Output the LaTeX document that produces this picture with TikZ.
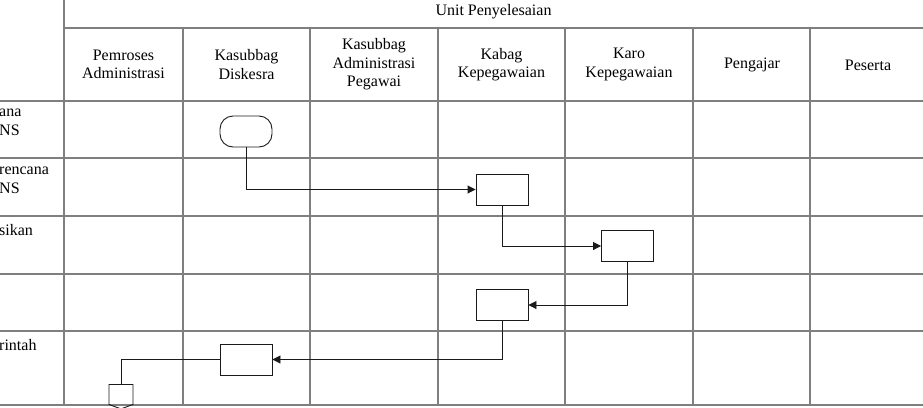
\documentclass[tikz,border=0pt]{standalone}
\usepackage{fontspec}
\setmainfont{Liberation Serif}
\usepackage{tikz}
\usetikzlibrary{calc,positioning,shapes.geometric,shapes.symbols,arrows.meta}
\definecolor{GridGray}{HTML}{7F7F7F}
\definecolor{FlowBlack}{HTML}{1A1A1A}

\begin{document}
\begin{tikzpicture}[x=1pt,y=-1pt,font=\fontsize{16pt}{18.5pt}\selectfont,
      gl/.style={draw=GridGray,line width=1.1pt},
      hd/.style={align=center,inner sep=0pt},
      rl/.style={align=left,anchor=north west,inner sep=0pt},
      bx/.style={draw=FlowBlack,line width=0.9pt,minimum width=52pt,minimum height=31pt,inner sep=0pt},
      tm/.style={draw=FlowBlack,line width=0.9pt,rounded corners=13pt,minimum width=52pt,minimum height=31pt,inner sep=0pt},
      op/.style={draw=FlowBlack,line width=0.9pt,signal,signal to=south,signal from=nowhere,signal pointer angle=140,minimum width=24pt,minimum height=20pt,inner sep=0pt},
      ar/.style={-{Triangle[length=8pt,width=8pt]},line width=0.9pt,color=FlowBlack}]
      \useasboundingbox (0,0) rectangle (923,407);
      % table grid
      \draw[gl] (64,0) -- (64,405);
      \draw[gl] (183,28) -- (183,405) (310,28) -- (310,405) (438,28) -- (438,405);
      \draw[gl] (565,28) -- (565,405) (693,28) -- (693,405) (810,28) -- (810,405);
      \draw[gl] (64,28) -- (923,28);
      \draw[gl] (0,101) -- (923,101) (0,158) -- (923,158) (0,216) -- (923,216);
      \draw[gl] (0,274) -- (923,274) (0,331) -- (923,331) (0,405) -- (923,405);
      % headers
      \node[hd] (unit) at (493.5,12) {Unit Penyelesaian};
      \node[hd] (hpa) at (123.5,64.5) {Pemroses\\Administrasi};
      \node[hd] (hkd) at (246.5,64.5) {Kasubbag\\Diskesra};
      \node[hd] (hka) at (374,64.5) {Kasubbag\\Administrasi\\Pegawai};
      \node[hd] (hkb) at (501.5,64.5) {Kabag\\Kepegawaian};
      \node[hd] (hkr) at (629,64.5) {Karo\\Kepegawaian};
      \node[hd] (hpg) at (752,65) {Pengajar};
      \node[hd] (hps) at (868,65) {Peserta};
      % row labels
      \node[rl] (r1) at (-1,109) {ana\\NS};
      \node[rl] (r2) at (-1,167) {rencana\\NS};
      \node[rl] (r3) at (-1,224) {sikan};
      \node[rl] (r5) at (-1,339) {rintah};
      % flow
      \node[tm] (start) at (246,131.5) {};
      \node[bx] (kabag1) at (502,189.5) {};
      \node[bx] (karo) at (627.5,246) {};
      \node[bx] (kabag2) at (502,305) {};
      \node[bx] (disk) at (246,359.5) {};
      \node[op] (off) at (121,394.5) {};
      \draw[ar] (start.south) |- (kabag1.west);
      \draw[ar] (kabag1.south) |- (karo.west);
      \draw[ar] (karo.south) |- (kabag2.east);
      \draw[ar] (kabag2.south) |- (disk.east);
      \draw[line width=0.9pt,color=FlowBlack] (disk.west) -| (off.north);
    \end{tikzpicture}
\end{document}
